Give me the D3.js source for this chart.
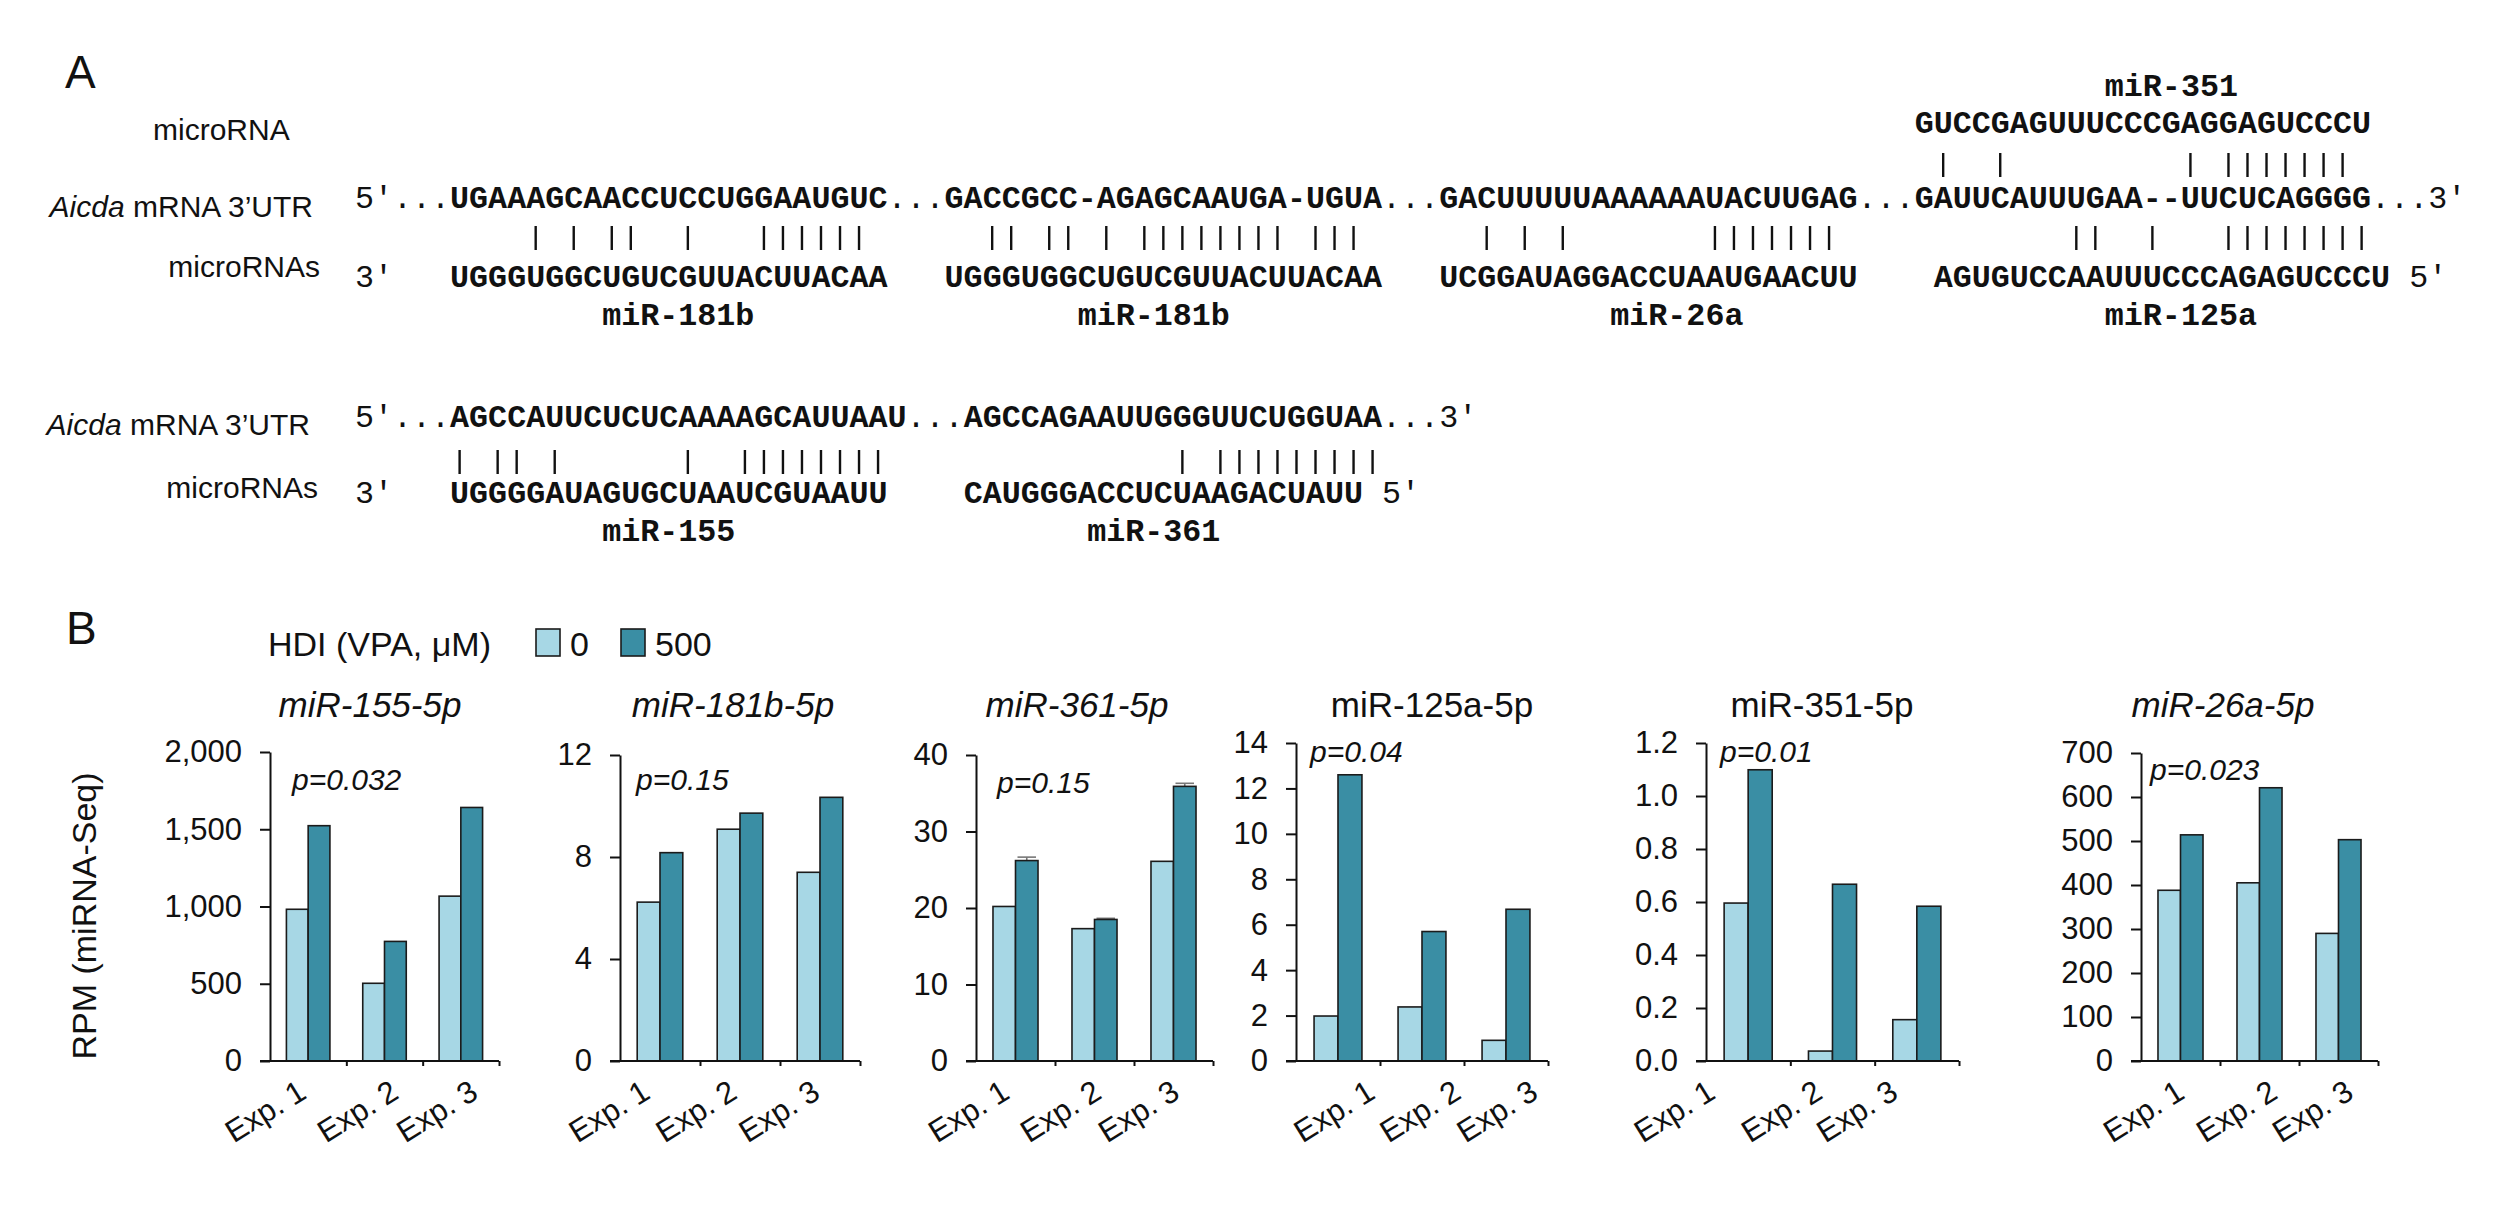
<!DOCTYPE html>
<html>
<head>
<meta charset="utf-8">
<script src="https://cdn.jsdelivr.net/npm/d3@7"></script>
<style>
  body { margin: 0; background: #fff; }
  text { font-family: "Liberation Sans", Arial, sans-serif; fill: #111; }
  .mono { font-family: "Liberation Mono", "Courier New", monospace; font-size: 31.7px; }
  .seq { font-weight: bold; }
  .pipe { stroke: #111; stroke-width: 2.4; }
  .axis path, .axis line { stroke: #111; stroke-width: 2; }
  .axis text { font-size: 31px; fill: #111; }
  .bar { stroke: #1b1b1b; stroke-width: 1.6; }
  .err { stroke: #777; stroke-width: 1.6; }
</style>
</head>
<body>
<svg width="2500" height="1210"></svg>
<script>
// ---------- panel A : Aicda 3'UTR / microRNA pairing ----------
const utrRow1 = ["UGAAAGCAACCUCCUGGAAUGUC", "GACCGCC-AGAGCAAUGA-UGUA", "GACUUUUUAAAAAAUACUUGAG", "GAUUCAUUUGAA--UUCUCAGGGG"];
const utrRow1Cols = [5, 31, 57, 82];
const mirRow1 = ["UGGGUGGCUGUCGUUACUUACAA", "UGGGUGGCUGUCGUUACUUACAA", "UCGGAUAGGACCUAAUGAACUU", "AGUGUCCAAUUUCCCAGAGUCCCU"];
const mirRow1Cols = [5, 31, 57, 83];
const mirRow1Names = ["miR-181b", "miR-181b", "miR-26a", "miR-125a"];
const pairsRow1 = [9, 11, 13, 14, 17, 21, 22, 23, 24, 25, 26,
                   33, 34, 36, 37, 39, 41, 42, 43, 44, 45, 46, 47, 48, 50, 51, 52,
                   59, 61, 63, 71, 72, 73, 74, 75, 76, 77,
                   90, 91, 94, 98, 99, 100, 101, 102, 103, 104, 105];

const mir351Seq = "GUCCGAGUUUCCCGAGGAGUCCCU";
const mir351Col = 82;
const pairs351 = [83, 86, 96, 98, 99, 100, 101, 102, 103, 104];

const utrRow2 = ["AGCCAUUCUCUCAAAAGCAUUAAU", "AGCCAGAAUUGGGUUCUGGUAA"];
const utrRow2Cols = [5, 32];
const mirRow2 = ["UGGGGAUAGUGCUAAUCGUAAUU", "CAUGGGACCUCUAAGACUAUU"];
const mirRow2Cols = [5, 32];
const mirRow2Names = ["miR-155", "miR-361"];
const pairsRow2 = [5, 7, 8, 10, 17, 20, 21, 22, 23, 24, 25, 26, 27,
                   43, 45, 46, 47, 48, 49, 50, 51, 52, 53];

// ---------- panel B : miRNA-Seq RPM ----------
const experiments = ["Exp. 1", "Exp. 2", "Exp. 3"];
const doses = ["0", "500"];
const legendTitle = "HDI (VPA, \u03BCM)";

const mir155Vpa0 = [982, 503, 1067];
const mir155Vpa500 = [1523, 774, 1641];
const mir181bVpa0 = [6.23, 9.09, 7.40];
const mir181bVpa500 = [8.17, 9.72, 10.34];
const mir361Vpa0 = [20.2, 17.3, 26.1];
const mir361Vpa500 = [26.2, 18.5, 35.9];
const mir361Vpa500Err = [0.45, 0.15, 0.4];
const mir125aVpa0 = [1.98, 2.38, 0.91];
const mir125aVpa500 = [12.6, 5.7, 6.68];
const mir351Vpa0 = [0.596, 0.0375, 0.156];
const mir351Vpa500 = [1.099, 0.667, 0.584];
const mir26aVpa0 = [388, 405, 290];
const mir26aVpa500 = [514, 621, 503];

const chartTitles = ["miR-155-5p", "miR-181b-5p", "miR-361-5p", "miR-125a-5p", "miR-351-5p", "miR-26a-5p"];
const titleItalic = [true, true, true, false, false, true];
const pValues = ["p=0.032", "p=0.15", "p=0.15", "p=0.04", "p=0.01", "p=0.023"];
const yTicks = [
  [0, 500, 1000, 1500, 2000],
  [0, 4, 8, 12],
  [0, 10, 20, 30, 40],
  [0, 2, 4, 6, 8, 10, 12, 14],
  [0, 0.2, 0.4, 0.6, 0.8, 1.0, 1.2],
  [0, 100, 200, 300, 400, 500, 600, 700]
];
const yFormats = [d3.format(","), d3.format("d"), d3.format("d"), d3.format("d"), d3.format(".1f"), d3.format("d")];

const chartData = [
  { vpa0: mir155Vpa0, vpa500: mir155Vpa500 },
  { vpa0: mir181bVpa0, vpa500: mir181bVpa500 },
  { vpa0: mir361Vpa0, vpa500: mir361Vpa500, err500: mir361Vpa500Err },
  { vpa0: mir125aVpa0, vpa500: mir125aVpa500 },
  { vpa0: mir351Vpa0, vpa500: mir351Vpa500 },
  { vpa0: mir26aVpa0, vpa500: mir26aVpa500 }
];

// layout of the six small charts (pixels)
const chartLayout = [
  { x0: 270,  x1: 499,  yTop: 752, titleX: 370,  pX: 292,  pY: 790, labelDx: [0, 16, 19] },
  { x0: 620,  x1: 860,  yTop: 755, titleX: 733,  pX: 636,  pY: 790, labelDx: [-8, -1, 2] },
  { x0: 976,  x1: 1213, yTop: 755, titleX: 1077, pX: 997,  pY: 793, labelDx: [-4, 9, 8] },
  { x0: 1296, x1: 1548, yTop: 743, titleX: 1432, pX: 1310, pY: 762, labelDx: [39, 41, 34] },
  { x0: 1706, x1: 1959, yTop: 743, titleX: 1822, pX: 1720, pY: 762, labelDx: [-31, -8, -17] },
  { x0: 2141, x1: 2378, yTop: 753, titleX: 2223, pX: 2150, pY: 780, labelDx: [6, 20, 17] }
];
const baseY = 1061;
const colors = { "0": "#a7d7e5", "500": "#3a8ea4" };

const svg = d3.select("svg");
const col = d3.scaleLinear().domain([0, 1]).range([355, 374.02]);

const monoText = (g, x, y, str, bold) => g.append("text")
    .attr("class", bold ? "mono seq" : "mono")
    .attr("x", x)
    .attr("y", y)
    .text(str);

const drawUtrLine = (g, y, segs, cols) => {
  monoText(g, col(0), y, "5\u2032", false);
  segs.forEach((s, i) => {
    monoText(g, col(cols[i] - 3), y, "...", false);
    monoText(g, col(cols[i]), y, s, true);
  });
  const last = cols[cols.length - 1] + segs[segs.length - 1].length;
  monoText(g, col(last), y, "...", false);
  monoText(g, col(last + 3), y, "3\u2032", false);
};

const drawMirLine = (g, y, segs, cols, endCol) => {
  monoText(g, col(0), y, "3\u2032", false);
  segs.forEach((s, i) => monoText(g, col(cols[i]), y, s, true));
  monoText(g, col(endCol), y, "5\u2032", false);
};

const drawPairs = (g, cols, y1, y2) => {
  g.selectAll(null)
    .data(cols)
    .join("line")
      .attr("class", "pipe")
      .attr("x1", d => col(d + 0.5))
      .attr("x2", d => col(d + 0.5))
      .attr("y1", y1)
      .attr("y2", y2);
};

const drawNames = (g, y, names, cols) => {
  names.forEach((n, i) => monoText(g, col(cols[i]), y, n, true));
};

const drawPanelA = () => {
  const g = svg.append("g").attr("class", "panel-a");

  g.append("text").attr("x", 65).attr("y", 88).style("font-size", "46px").text("A");

  g.append("text").attr("x", 153).attr("y", 140).style("font-size", "30px").text("microRNA");

  const utrLabel = (y, x) => {
    const t = g.append("text").attr("x", x).attr("y", y)
      .attr("text-anchor", "end").style("font-size", "30px");
    t.append("tspan").style("font-style", "italic").text("Aicda");
    t.append("tspan").text(" mRNA 3\u2019UTR");
  };
  const mirLabel = (y, x) => g.append("text").attr("x", x).attr("y", y)
    .attr("text-anchor", "end").style("font-size", "30px").text("microRNAs");

  // miR-351 on top of the first row
  monoText(g, col(92), 96, "miR-351", true);
  monoText(g, col(mir351Col), 133, mir351Seq, true);
  drawPairs(g, pairs351, 153, 177);

  // row 1
  utrLabel(217, 313);
  drawUtrLine(g, 208, utrRow1, utrRow1Cols);
  drawPairs(g, pairsRow1, 226, 250);
  mirLabel(277, 320);
  drawMirLine(g, 287, mirRow1, mirRow1Cols, 108);
  drawNames(g, 325, mirRow1Names, [13, 38, 66, 92]);

  // row 2
  utrLabel(435, 310);
  drawUtrLine(g, 427, utrRow2, utrRow2Cols);
  drawPairs(g, pairsRow2, 450, 474);
  mirLabel(498, 318);
  drawMirLine(g, 503, mirRow2, mirRow2Cols, 54);
  drawNames(g, 541, mirRow2Names, [13, 38.5]);
};

const drawLegend = () => {
  const g = svg.append("g").attr("class", "legend");
  g.append("text").attr("x", 66).attr("y", 644).style("font-size", "46px").text("B");
  g.append("text").attr("x", 268).attr("y", 656).style("font-size", "34px").text(legendTitle);

  const lx = d3.scalePoint().domain(doses).range([536, 621]);
  const item = g.selectAll("g.item")
    .data(doses)
    .join("g")
      .attr("class", "item")
      .attr("transform", d => `translate(${lx(d)},629)`);
  item.append("rect")
      .attr("class", "bar")
      .attr("width", 24)
      .attr("height", 27)
      .attr("fill", d => colors[d]);
  item.append("text")
      .attr("x", 34)
      .attr("y", 27)
      .style("font-size", "34px")
      .text(d => d);

  svg.append("text")
      .attr("transform", "translate(96,916) rotate(-90)")
      .attr("text-anchor", "middle")
      .style("font-size", "34px")
      .text("RPM (miRNA-Seq)");
};

const drawChart = (i) => {
  const lay = chartLayout[i];
  const dat = chartData[i];
  const ticks = yTicks[i];
  const g = svg.append("g").attr("class", `chart-${i}`);

  const x = d3.scaleBand()
      .domain(experiments)
      .range([lay.x0, lay.x1])
      .paddingInner(0.43)
      .paddingOuter(0.215);
  const xDose = d3.scaleBand().domain(doses).range([0, x.bandwidth()]);
  const y = d3.scaleLinear()
      .domain([0, d3.max(ticks)])
      .range([baseY, lay.yTop]);

  const rows = experiments.map((e, k) => doses.map(d => ({
    exp: e,
    dose: d,
    value: d === "0" ? dat.vpa0[k] : dat.vpa500[k],
    err: d === "500" && dat.err500 ? dat.err500[k] : 0
  }))).flat();

  // error caps behind the bars
  g.selectAll("g.err")
    .data(rows.filter(r => r.err > 0))
    .join("g")
      .attr("class", "err")
      .call(s => s.append("line")
        .attr("class", "err")
        .attr("x1", r => x(r.exp) + xDose(r.dose) + 2)
        .attr("x2", r => x(r.exp) + xDose(r.dose) + xDose.bandwidth() - 2)
        .attr("y1", r => y(r.value + r.err))
        .attr("y2", r => y(r.value + r.err)))
      .call(s => s.append("line")
        .attr("class", "err")
        .attr("x1", r => x(r.exp) + xDose(r.dose) + xDose.bandwidth() / 2)
        .attr("x2", r => x(r.exp) + xDose(r.dose) + xDose.bandwidth() / 2)
        .attr("y1", r => y(r.value + r.err))
        .attr("y2", r => y(r.value)));

  g.selectAll("rect.bar")
    .data(rows)
    .join("rect")
      .attr("class", "bar")
      .attr("x", r => x(r.exp) + xDose(r.dose))
      .attr("y", r => y(r.value))
      .attr("width", xDose.bandwidth())
      .attr("height", r => baseY - y(r.value))
      .attr("fill", r => colors[r.dose]);

  // y axis
  g.append("g")
      .attr("class", "axis")
      .attr("transform", `translate(${lay.x0},0)`)
      .call(d3.axisLeft(y)
        .tickValues(ticks)
        .tickFormat(yFormats[i])
        .tickSize(10)
        .tickSizeOuter(0)
        .tickPadding(18));

  // x axis line with small marks between experiments
  const xb = d3.scaleLinear().domain([0, experiments.length]).range([lay.x0, lay.x1]);
  g.append("line")
      .attr("class", "pipe")
      .style("stroke-width", 2)
      .attr("x1", lay.x0 - 10)
      .attr("x2", lay.x1)
      .attr("y1", baseY)
      .attr("y2", baseY);
  g.append("g")
      .attr("class", "axis")
      .attr("transform", `translate(0,${baseY})`)
      .call(d3.axisBottom(xb).tickValues([1, 2, 3]).tickSize(5).tickFormat(""))
      .call(a => a.select(".domain").remove());

  g.selectAll("text.xlab")
    .data(experiments)
    .join("text")
      .attr("class", "xlab")
      .attr("text-anchor", "end")
      .style("font-size", "31px")
      .attr("transform", (e, k) =>
        `translate(${x(e) + x.bandwidth() / 2 + lay.labelDx[k]},1097) rotate(-32)`)
      .text(e => e);

  g.append("text")
      .attr("x", lay.titleX)
      .attr("y", 717)
      .attr("text-anchor", "middle")
      .style("font-size", "35px")
      .style("font-style", titleItalic[i] ? "italic" : "normal")
      .text(chartTitles[i]);

  g.append("text")
      .attr("x", lay.pX)
      .attr("y", lay.pY)
      .style("font-size", "30px")
      .style("font-style", "italic")
      .text(pValues[i]);
};

drawPanelA();
drawLegend();
chartTitles.forEach((_, i) => drawChart(i));
</script>
</body>
</html>
